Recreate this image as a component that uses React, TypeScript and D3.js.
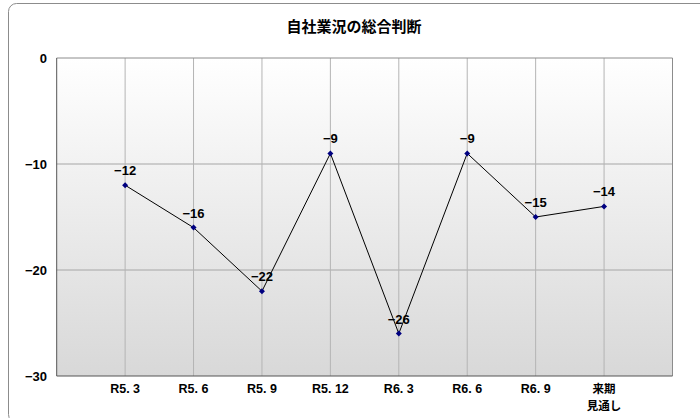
import React from "react";
import * as d3 from "d3";

const categories: string[][] = [["R5. 3"], ["R5. 6"], ["R5. 9"], ["R5. 12"], ["R6. 3"], ["R6. 6"], ["R6. 9"], ["来期", "見通し"]];
const values: number[] = [-12, -16, -22, -9, -26, -9, -15, -14];
const yTicks: number[] = [0, -10, -20, -30];
const title = "自社業況の総合判断";

const W = 700;
const H = 418;
const left = 56.7;
const right = 672.5;
const top = 58;
const bottom = 376;

const font = "'Liberation Sans Narrow', 'Liberation Sans', 'Noto Sans CJK JP', sans-serif";

export default function App() {
  const y = d3.scaleLinear().domain([-30, 0]).range([bottom, top]);
  const x = d3.scaleLinear().domain([-1, categories.length]).range([left, right]);
  const line = d3.line<number>().x((_, i) => x(i)).y((d) => y(d));
  const gridX = d3.range(0, categories.length);

  return (
    <svg width={W} height={H} style={{ position: "absolute", left: 0, top: 0 }}>
      <defs>
        <linearGradient id="bg" x1="0" y1="0" x2="0" y2="1">
          <stop offset="0" stopColor="#ffffff" />
          <stop offset="1" stopColor="#d8d8d8" />
        </linearGradient>
      </defs>
      <rect x={0} y={0} width={W} height={H} fill="#fff" />
      <rect x={8.5} y={3.5} width={720} height={419} rx={8} fill="#fff" stroke="#8c8c8c" strokeWidth={1} />
      <text x={354} y={32} textAnchor="middle" fontFamily="'Noto Sans CJK JP', sans-serif" fontWeight="bold" fontSize={15} fill="#000">
        {title}
      </text>
      <rect x={left} y={top} width={right - left} height={bottom - top} fill="url(#bg)" />
      {yTicks.filter((t) => t !== 0 && t !== -30).map((t) => (
        <line key={t} x1={left} x2={right} y1={y(t)} y2={y(t)} stroke="#a6a6a6" strokeWidth={1} />
      ))}
      {gridX.map((i) => (
        <line key={i} x1={x(i)} x2={x(i)} y1={top} y2={bottom} stroke="#b4b4b4" strokeWidth={1} />
      ))}
      <line x1={left} x2={right} y1={top} y2={top} stroke="#8c8c8c" />
      <line x1={right} x2={right} y1={top} y2={bottom} stroke="#8c8c8c" />
      <line x1={left} x2={left} y1={top} y2={bottom} stroke="#555" />
      <line x1={left} x2={right} y1={bottom} y2={bottom} stroke="#555" />
      {yTicks.map((t) => (
        <text key={t} x={47} y={y(t) + 4.5} textAnchor="end" fontFamily={font} fontWeight="bold" fontSize={13} fill="#000">
          {t === 0 ? "0" : "\u2212" + Math.abs(t)}
        </text>
      ))}
      {categories.map((c, i) => (
        <text key={i} x={x(i)} y={393} textAnchor="middle" fontFamily={font} fontWeight="bold" fontSize={12.5} fill="#000">
          {c.map((s, j) => (
            <tspan key={j} x={x(i)} dy={j === 0 ? 0 : 17} fontFamily={/[A-Z]/.test(s) ? font : "'Noto Sans CJK JP', sans-serif"} fontSize={/[A-Z]/.test(s) ? 12.5 : 11.5}>
              {s}
            </tspan>
          ))}
        </text>
      ))}
      <path d={line(values) || ""} fill="none" stroke="#000" strokeWidth={1} />
      {values.map((v, i) => (
        <path key={i} d={`M${x(i)},${y(v) - 3}L${x(i) + 3},${y(v)}L${x(i)},${y(v) + 3}L${x(i) - 3},${y(v)}Z`} fill="#000080" />
      ))}
      {values.map((v, i) => (
        <text key={i} x={x(i)} y={y(v) - 10} textAnchor="middle" fontFamily={font} fontWeight="bold" fontSize={13} fill="#000">
          {"\u2212" + Math.abs(v)}
        </text>
      ))}
    </svg>
  );
}
